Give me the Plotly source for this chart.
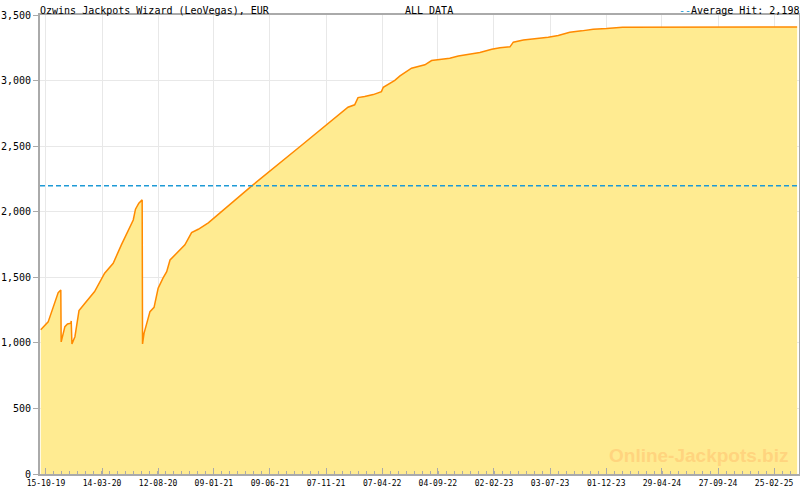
import plotly.graph_objects as go

# === Data ===
dates = [
    "2019-10-01", "2019-10-21", "2019-11-17", "2019-11-24", "2019-11-25",
    "2019-12-05", "2019-12-12", "2019-12-21", "2019-12-22", "2019-12-24",
    "2020-01-01", "2020-01-08", "2020-01-12", "2020-01-28", "2020-02-23",
    "2020-03-21", "2020-04-13", "2020-05-05", "2020-05-23", "2020-06-06",
    "2020-06-12", "2020-06-21", "2020-06-30", "2020-07-01", "2020-07-05",
    "2020-07-12", "2020-07-21", "2020-08-01", "2020-08-12", "2020-08-25",
    "2020-09-04", "2020-09-13", "2020-09-30", "2020-10-23", "2020-11-10",
    "2020-11-28", "2020-12-25", "2021-01-12", "2021-02-21", "2021-04-21",
    "2021-08-29", "2021-12-14", "2022-01-05", "2022-01-23", "2022-02-01",
    "2022-02-19", "2022-03-14", "2022-04-05", "2022-04-10", "2022-05-11",
    "2022-05-25", "2022-06-25", "2022-07-31", "2022-08-18", "2022-10-06",
    "2022-10-29", "2022-11-29", "2022-12-26", "2023-01-27", "2023-02-18",
    "2023-03-17", "2023-03-26", "2023-04-22", "2023-05-23", "2023-06-28",
    "2023-07-25", "2023-08-25", "2023-09-26", "2023-10-27", "2023-12-02",
    "2024-01-14", "2025-04-28",
]
jackpot = [
    1100, 1160, 1383, 1403, 1007,
    1124, 1144, 1150, 1167, 992,
    1047, 1162, 1246, 1302, 1391,
    1531, 1607, 1747, 1848, 1937,
    2019, 2065, 2090, 992, 1073,
    1137, 1238, 1271, 1416, 1493,
    1543, 1632, 1683, 1747, 1841,
    1866, 1915, 1958, 2052, 2197,
    2497, 2744, 2797, 2815, 2870,
    2878, 2893, 2916, 2949, 3002,
    3036, 3094, 3120, 3153, 3171,
    3188, 3201, 3214, 3239, 3251,
    3257, 3293, 3310, 3318, 3331,
    3343, 3369, 3379, 3392, 3397,
    3407, 3408,
]
avg_hit = 2198

tick_dates = [
    "2019-10-15", "2020-03-14", "2020-08-12", "2021-01-09", "2021-06-09",
    "2021-11-07", "2022-04-07", "2022-09-04", "2023-02-02", "2023-07-03",
    "2023-12-01", "2024-04-29", "2024-09-27", "2025-02-25",
]
tick_labels = [
    "15-10-19", "14-03-20", "12-08-20", "09-01-21", "09-06-21",
    "07-11-21", "07-04-22", "04-09-22", "02-02-23", "03-07-23",
    "01-12-23", "29-04-24", "27-09-24", "25-02-25",
]

mono = "DejaVu Sans Mono"
axis_grey = "#aaaaaa"
grid_grey = "#e8e8e8"
avg_blue = "#1e9ad6"

fig = go.Figure()

fig.add_trace(go.Scatter(
    x=dates, y=jackpot, mode="lines",
    line=dict(color="#ff8a00", width=1.5),
    fill="tozeroy", fillcolor="#ffeb91",
    showlegend=False, hoverinfo="x+y",
))

# average hit line
fig.add_hline(y=avg_hit, line=dict(color=avg_blue, width=1.3, dash="5px,3px"),
              layer="above")

# watermark
fig.add_annotation(text="<b>Online-Jackpots.biz</b>", xref="paper", yref="paper",
                   x=0.988, y=0.012, xanchor="right", yanchor="bottom", showarrow=False,
                   font=dict(family="Liberation Sans", size=19, color="#ffd47e"))

# header texts
fig.add_annotation(text="Ozwins Jackpots Wizard (LeoVegas), EUR", xref="paper", yref="paper",
                   x=0, y=1, xanchor="left", yanchor="bottom", showarrow=False,
                   font=dict(family=mono, size=10, color="black"), yshift=-3, xshift=-2)
fig.add_annotation(text="ALL DATA", xref="paper", yref="paper",
                   x=0.513, y=1, xanchor="center", yanchor="bottom", showarrow=False,
                   font=dict(family=mono, size=10, color="black"), yshift=-3)
fig.add_annotation(text=f"<span style='color:{avg_blue}'>--</span>Average Hit: {avg_hit:,}",
                   xref="paper", yref="paper",
                   x=1, y=1, xanchor="right", yanchor="bottom", showarrow=False,
                   font=dict(family=mono, size=10, color="black"), yshift=-3, xshift=2)

fig.update_layout(
    width=800, height=490,
    margin=dict(l=40, r=1, t=15, b=16, autoexpand=False),
    paper_bgcolor="white", plot_bgcolor="white",
    font=dict(family=mono, size=10, color="black"),
)

fig.update_xaxes(
    type="date", range=["2019-09-29", "2025-05-03"], automargin=False,
    tickmode="array", tickvals=tick_dates, ticktext=tick_labels,
    tickfont=dict(family=mono, size=8),
    ticks="inside", ticklen=6, tickcolor=axis_grey,
    showgrid=True, gridcolor=grid_grey, gridwidth=1,
    showline=True, linecolor=axis_grey, linewidth=2, mirror=True,
    minor=dict(ticks="inside", ticklen=3, tickcolor=axis_grey,
               tick0="2019-10-15", dtick=1860923077, showgrid=False),
    zeroline=False,
)
fig.update_yaxes(
    range=[0, 3500], tickmode="linear", tick0=0, dtick=500, tickformat=",",
    automargin=False,
    ticks="outside", ticklen=5, tickcolor=axis_grey,
    showgrid=True, gridcolor=grid_grey, gridwidth=1,
    showline=True, linecolor=axis_grey, linewidth=2, mirror=True,
    zeroline=False,
)

# drop the browser's default page margin so the 800x490 figure fills the window
fig.write_html("out.html", config={"displayModeBar": False},
               post_script="document.body.style.margin='0';")
